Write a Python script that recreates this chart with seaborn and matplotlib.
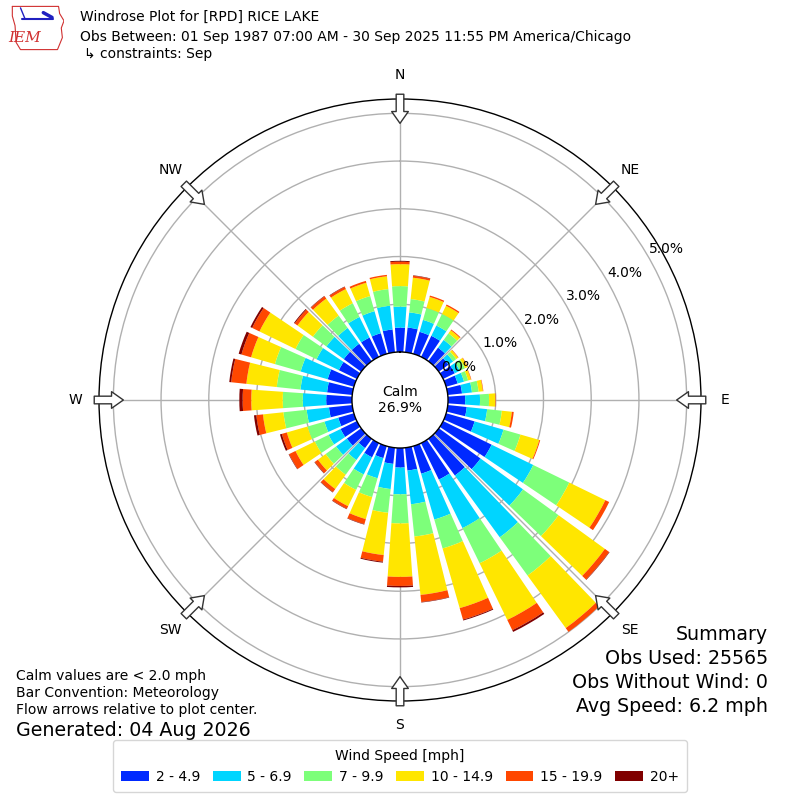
import numpy as np
import matplotlib
matplotlib.use("Agg")
import matplotlib.pyplot as plt
import seaborn as sns

# wind direction bins (deg, "from") and speed classes
directions = np.arange(0, 360, 10)
speed_labels = ["2 - 4.9", "5 - 6.9", "7 - 9.9", "10 - 14.9", "15 - 19.9", "20+"]

# frequency (% of all obs) per direction, one list per speed class
spd_2_5 = [0.51, 0.52, 0.48, 0.49, 0.35, 0.25, 0.27, 0.25, 0.30, 0.36, 0.40, 0.62,
           1.13, 1.08, 0.95, 0.85, 0.60, 0.48, 0.41, 0.34, 0.26, 0.33, 0.24, 0.37,
           0.38, 0.34, 0.49, 0.54, 0.53, 0.57, 0.42, 0.45, 0.45, 0.45, 0.45, 0.48]
spd_5_7 = [0.44, 0.32, 0.26, 0.24, 0.20, 0.12, 0.12, 0.14, 0.21, 0.31, 0.43, 0.63,
           0.97, 1.10, 1.60, 1.13, 1.00, 0.71, 0.56, 0.53, 0.44, 0.40, 0.31, 0.28,
           0.28, 0.30, 0.47, 0.49, 0.56, 0.59, 0.52, 0.45, 0.41, 0.48, 0.48, 0.50]
spd_7_10 = [0.43, 0.28, 0.26, 0.27, 0.17, 0.08, 0.12, 0.09, 0.14, 0.19, 0.31, 0.37,
            0.84, 0.92, 0.99, 0.82, 0.63, 0.68, 0.61, 0.50, 0.41, 0.36, 0.38, 0.27,
            0.32, 0.37, 0.49, 0.42, 0.50, 0.56, 0.49, 0.35, 0.32, 0.32, 0.33, 0.35]
spd_10_15 = [0.46, 0.45, 0.24, 0.19, 0.08, 0.05, 0.06, 0.06, 0.09, 0.13, 0.21, 0.41,
             0.84, 1.20, 1.36, 1.32, 1.30, 1.23, 1.12, 0.89, 0.48, 0.38, 0.37, 0.20,
             0.45, 0.45, 0.43, 0.66, 0.64, 0.52, 0.84, 0.40, 0.44, 0.33, 0.29, 0.27]
spd_15_20 = [0.05, 0.04, 0.03, 0.03, 0.02, 0.01, 0.01, 0.01, 0.01, 0.01, 0.04, 0.02,
             0.09, 0.11, 0.10, 0.24, 0.25, 0.15, 0.19, 0.14, 0.11, 0.06, 0.08, 0.08,
             0.15, 0.11, 0.14, 0.18, 0.32, 0.21, 0.17, 0.07, 0.06, 0.05, 0.04, 0.03]
spd_20 = [0.02, 0.01, 0.00, 0.00, 0.00, 0.00, 0.00, 0.00, 0.00, 0.00, 0.00, 0.00,
          0.00, 0.01, 0.00, 0.04, 0.02, 0.01, 0.03, 0.02, 0.01, 0.01, 0.01, 0.01,
          0.01, 0.04, 0.05, 0.07, 0.04, 0.06, 0.04, 0.02, 0.01, 0.01, 0.00, 0.00]

ring_ticks = [0, 1, 2, 3, 4, 5]
compass = ["N", "NE", "E", "SE", "S", "SW", "W", "NW"]
calm_pct = 26.9

sns.set_style("white")
plt.rcParams["font.family"] = ["DejaVu Sans"]
plt.rcParams["text.color"] = "black"
plt.rcParams["legend.labelcolor"] = "black"

jet = plt.get_cmap("jet")
colors = sns.color_palette([jet(v) for v in np.linspace(1 / 6, 1, 6)])

fig = plt.figure(figsize=(8, 8), dpi=100)
ax = fig.add_axes([0.12375, 0.12375, 0.7525, 0.7525], projection="polar")
ax.set_theta_zero_location("N")
ax.set_theta_direction(-1)
ax.set_rorigin(-1.006)
ax.set_ylim(0, 5.3)

theta = np.deg2rad(directions)
bottom = np.zeros(len(directions))
series = [spd_2_5, spd_5_7, spd_7_10, spd_10_15, spd_15_20, spd_20]
handles = []
for vals, col, lab in zip(series, colors, speed_labels):
    vals = np.array(vals)
    b = ax.bar(theta, vals, width=np.deg2rad(8), bottom=bottom, color=col,
               linewidth=0, label=lab, zorder=1)
    handles.append(b)
    bottom += vals

# grid and spines
ax.set_rticks(ring_ticks)
ax.set_yticklabels([])
ax.set_xticks(np.deg2rad(np.arange(0, 360, 45)))
ax.set_xticklabels([])
ax.grid(True, color="#b0b0b0", linewidth=1)
for name in ("polar", "inner"):
    if name in ax.spines:
        ax.spines[name].set_color("black")
        ax.spines[name].set_linewidth(1)

for v in ring_ticks:
    ax.text(np.deg2rad(60.5), v + 0.4, f"{v:.1f}%", ha="center", va="center",
            fontsize=10, zorder=5)

for ang, lab in zip(range(0, 360, 45), compass):
    th = np.deg2rad(ang)
    ax.text(th, 5.8, lab, ha="center", va="center", fontsize=10, clip_on=False)
    ax.annotate("", xy=(th, 4.79), xytext=(th, 5.4),
                arrowprops=dict(arrowstyle="simple,head_length=0.85,head_width=1.2,tail_width=0.55",
                                fc="white", ec="#333333", lw=1, shrinkA=0, shrinkB=0),
                annotation_clip=False, zorder=6)

ax.text(0.5, 0.5, f"Calm\n{calm_pct:.1f}%", transform=ax.transAxes,
        ha="center", va="center", fontsize=10)

# header
fig.text(0.1, 1 - 17 / 800, "Windrose Plot for [RPD] RICE LAKE", fontsize=10, va="center")
fig.text(0.1, 1 - 37 / 800,
         "Obs Between: 01 Sep 1987 07:00 AM - 30 Sep 2025 11:55 PM America/Chicago",
         fontsize=10, va="center")
fig.text(0.105, 1 - 54 / 800, "\u21b3 constraints: Sep", fontsize=10, va="center")

# rough logo
lax = fig.add_axes([0.012, 0.935, 0.068, 0.06])
lax.set_xlim(0, 1)
lax.set_ylim(0, 1)
lax.axis("off")
lax.plot([0.05, 0.9, 0.92, 1.0, 0.95, 0.97, 0.88, 0.2, 0.12, 0.1, 0.05, 0.05],
         [0.95, 0.95, 0.8, 0.65, 0.5, 0.3, 0.05, 0.05, 0.2, 0.55, 0.75, 0.95],
         color="#d03030", lw=0.8)
lax.plot([0.22, 0.8], [0.68, 0.68], color="#2020c0", lw=1.5)
lax.plot([0.62, 0.78], [0.82, 0.72], color="#2020c0", lw=2.5)
lax.plot([0.2, 0.28], [0.92, 0.7], color="#2020c0", lw=1)
lax.text(0.28, 0.3, "IEM", color="#d03030", fontsize=11, style="italic",
         family="serif", ha="center", va="center")

# footer texts
fig.text(0.02, 1 - 676 / 800, "Calm values are < 2.0 mph", fontsize=10, va="center")
fig.text(0.02, 1 - 693 / 800, "Bar Convention: Meteorology", fontsize=10, va="center")
fig.text(0.02, 1 - 710 / 800, "Flow arrows relative to plot center.", fontsize=10, va="center")
fig.text(0.02, 1 - 730 / 800, "Generated: 04 Aug 2026", fontsize=13.7, va="center")

summary = ["Summary", "Obs Used: 25565", "Obs Without Wind: 0", "Avg Speed: 6.2 mph"]
for i, line in enumerate(summary):
    fig.text(0.96, 1 - (635 + 23.7 * i) / 800, line, fontsize=13.7, ha="right", va="center")

leg = fig.legend(handles=handles, labels=speed_labels, ncol=6, loc="lower center",
                 bbox_to_anchor=(0.5, 0.01), borderaxespad=0, borderpad=0.6,
                 title="Wind Speed [mph]", fontsize=10,
                 title_fontsize=10, handletextpad=0.5, columnspacing=0.9,
                 frameon=True, edgecolor="#cccccc", fancybox=True)

fig.savefig("out.png", dpi=100)
